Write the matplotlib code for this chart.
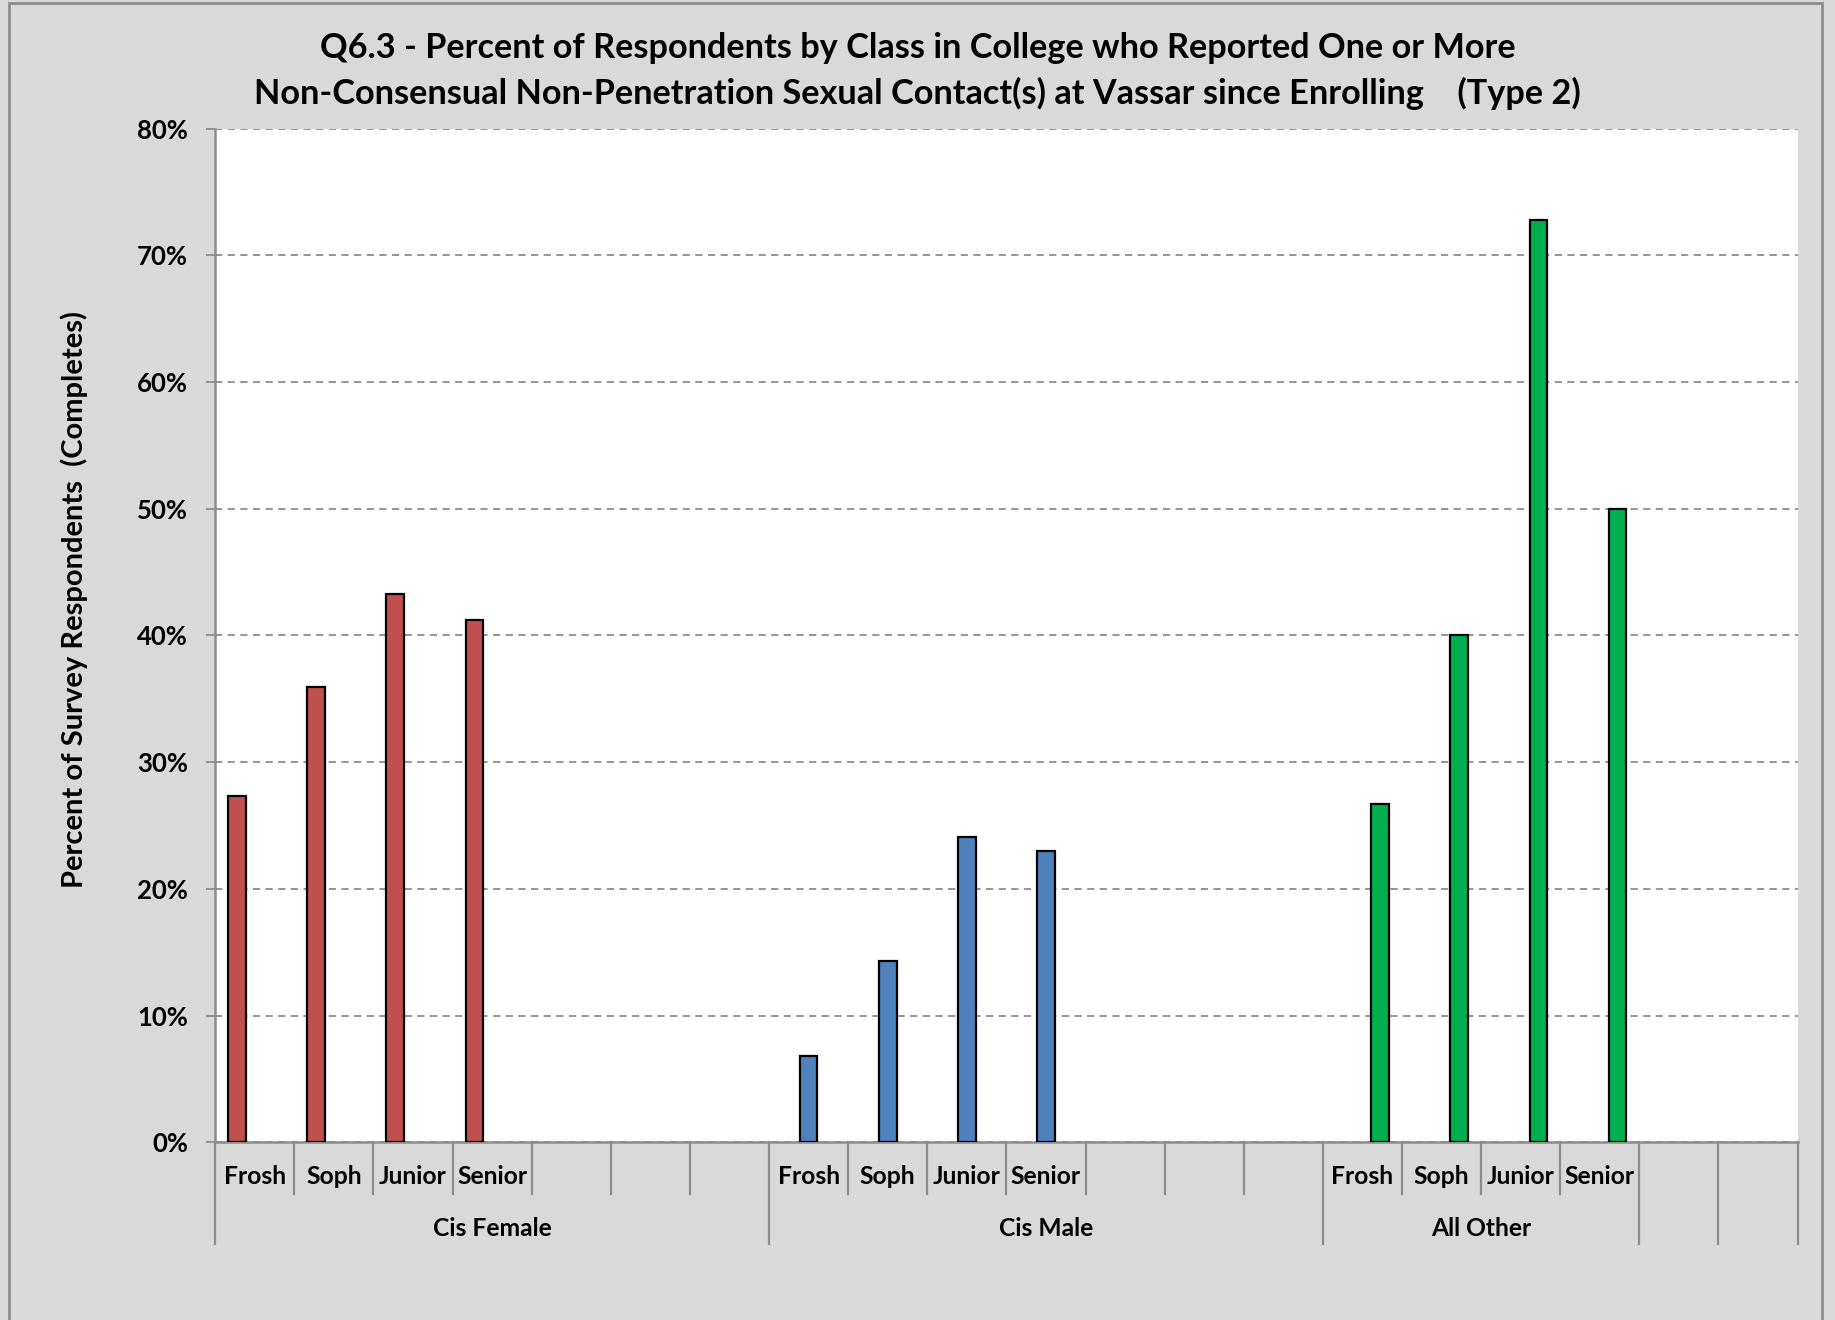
import numpy as np
import matplotlib.pyplot as plt
from matplotlib.patches import Rectangle
from matplotlib.transforms import blended_transform_factory

plt.rcParams['font.family'] = ['Lato', 'DejaVu Sans']
plt.rcParams['font.weight'] = 'bold'

# data (percent)
classes = ["Frosh", "Soph", "Junior", "Senior"]
groups = ["Cis Female", "Cis Male", "All Other"]
cis_female = [27.3, 35.9, 43.3, 41.2]
cis_male = [6.8, 14.3, 24.1, 23.0]
all_other = [26.7, 40.0, 72.8, 50.0]

# slot layout of the category axis (Excel multi-level axis)
group_slots = [7, 7, 4, 1, 1]
group_starts = np.cumsum([0] + group_slots[:-1])
n_slots = sum(group_slots)

colors = ["#C0504D", "#4F81BD", "#00B050"]
bg = "#D9D9D9"

fig = plt.figure(figsize=(18.35, 13.2), dpi=100)
fig.patch.set_facecolor(bg)
fig.patches.append(Rectangle((0.005, -0.01), 0.988, 1.008, transform=fig.transFigure,
                             facecolor="none", edgecolor="#8c8c8c", linewidth=2))

ax = fig.add_axes([0.1173, 0.1347, 0.8623, 0.7678])
ax.set_facecolor("white")

w = 0.224
series = [cis_female, cis_male, all_other]
for gi, vals in enumerate(series):
    x = group_starts[gi] + np.arange(len(vals))
    ax.bar(x + (gi - 1) * w, vals, width=w, color=colors[gi], edgecolor="black",
           linewidth=1.6, zorder=3)

ax.set_xlim(-0.5, n_slots - 0.5)
ax.set_ylim(0, 80)
ax.set_yticks(np.arange(0, 81, 10))
ax.set_yticklabels([f"{v}%" for v in range(0, 81, 10)], fontsize=18.5, fontweight="bold")
ax.yaxis.grid(True, linestyle=(0, (4, 3)), color="#8c8c8c", linewidth=1.3, zorder=0)
ax.tick_params(axis="y", length=6.5, width=1.3, color="#8c8c8c", pad=13)
ax.set_xticks([])
for s in ["top", "right"]:
    ax.spines[s].set_visible(False)
for s in ["left", "bottom"]:
    ax.spines[s].set_color("#8c8c8c")
    ax.spines[s].set_linewidth(1.8)

fig.text(0.0402, 0.546, "Percent of Survey Respondents  (Completes)", rotation=90,
         ha="center", va="center", fontsize=21, fontweight="bold")

# multi-level category axis
tr = blended_transform_factory(ax.transData, ax.transAxes)
group_edges = set()
for st, n in zip(group_starts, group_slots):
    group_edges.add(st - 0.5)
    group_edges.add(st + n - 0.5)
for b in range(n_slots + 1):
    edge = b - 0.5
    y1 = -0.1005 if edge in group_edges else -0.051
    ax.plot([edge, edge], [0, y1], transform=tr, color="#8c8c8c", linewidth=1.6,
            clip_on=False)
for gi in range(3):
    for ci, lab in enumerate(classes):
        ax.text(group_starts[gi] + ci, -0.0337, lab, transform=tr, ha="center",
                va="center", fontsize=17.7, fontweight="bold")
    ax.text(group_starts[gi] + (group_slots[gi] - 1) / 2, -0.0855, groups[gi],
            transform=tr, ha="center", va="center", fontsize=17.7, fontweight="bold")

fig.text(0.5, 0.9636, "Q6.3 - Percent of Respondents by Class in College who Reported One or More",
         ha="center", va="center", fontsize=24.7, fontweight="bold")
fig.text(0.5, 0.929, "Non-Consensual Non-Penetration Sexual Contact(s) at Vassar since Enrolling    (Type 2)",
         ha="center", va="center", fontsize=24.7, fontweight="bold")

fig.savefig("out.png", dpi=100, facecolor=bg)
